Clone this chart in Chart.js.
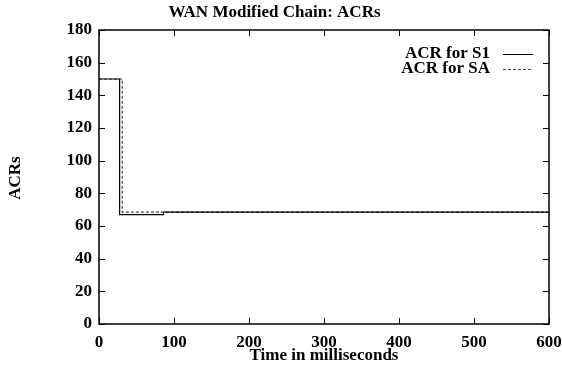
<!DOCTYPE html>
<html>
<head>
<meta charset="utf-8">
<script src="https://cdn.jsdelivr.net/npm/chart.js@4/dist/chart.umd.min.js"></script>
<style>
  html, body { margin: 0; padding: 0; background: #fff; }
  #wrap { width: 562px; height: 374px; }
</style>
</head>
<body>
<div id="wrap"><canvas id="c" width="562" height="374"></canvas></div>
<script>
// ACR traces (time in ms, ACR value)
const timeS1 = [0, 27.5, 27.5, 86, 86, 600];
const acrS1  = [150, 150, 67, 67, 68.5, 68.5];
const timeSA = [0, 31, 31, 600];
const acrSA  = [150, 150, 68.5, 68.5];

const seriesLabels = ['ACR for S1', 'ACR for SA'];
const xTicks = [0, 100, 200, 300, 400, 500, 600];
const yTicks = [0, 20, 40, 60, 80, 100, 120, 140, 160, 180];

const FONT = "'Liberation Serif', 'Times New Roman', serif";
const FS = 17;
const toPoints = (xs, ys) => xs.map((x, i) => ({ x, y: ys[i] }));

// Frame, inward tick marks on all four sides, y-axis caption and the key
const framePlugin = {
  id: 'frame',
  afterDatasetsDraw(chart) {
    const { ctx, chartArea: a, scales } = chart;
    const L = 6;
    ctx.save();
    ctx.strokeStyle = '#000';
    ctx.lineWidth = 1;
    ctx.beginPath();
    xTicks.forEach(v => {
      const px = Math.round(scales.x.getPixelForValue(v)) + 0.5;
      ctx.moveTo(px, a.bottom); ctx.lineTo(px, a.bottom - L);
      ctx.moveTo(px, a.top); ctx.lineTo(px, a.top + L);
    });
    yTicks.forEach(v => {
      const py = Math.round(scales.y.getPixelForValue(v)) + 0.5;
      ctx.moveTo(a.left, py); ctx.lineTo(a.left + L, py);
      ctx.moveTo(a.right, py); ctx.lineTo(a.right - L, py);
    });
    ctx.stroke();
    ctx.lineWidth = 1.5;
    ctx.strokeRect(a.left, a.top, a.right - a.left, a.bottom - a.top);

    ctx.fillStyle = '#000';
    ctx.font = 'bold ' + FS + 'px ' + FONT;

    // y-axis caption
    ctx.save();
    ctx.translate(16, 178);
    ctx.rotate(-Math.PI / 2);
    ctx.textAlign = 'center';
    ctx.textBaseline = 'middle';
    ctx.fillText('ACRs', 0, 0);
    ctx.restore();

    // key
    ctx.textAlign = 'right';
    ctx.textBaseline = 'middle';
    chart.data.datasets.forEach((ds, i) => {
      const y = a.top + 24 + i * 15;
      ctx.fillText(ds.label, a.right - 59, y);
      ctx.beginPath();
      ctx.strokeStyle = ds.borderColor;
      ctx.lineWidth = 1;
      ctx.setLineDash(ds.borderDash || []);
      ctx.moveTo(a.right - 46, Math.round(y) + 0.5);
      ctx.lineTo(a.right - 16, Math.round(y) + 0.5);
      ctx.stroke();
    });
    ctx.restore();
  }
};

new Chart(document.getElementById('c'), {
  type: 'line',
  data: {
    datasets: [
      {
        label: seriesLabels[0],
        data: toPoints(timeS1, acrS1),
        borderColor: '#000',
        borderWidth: 1.2,
        pointRadius: 0,
        tension: 0
      },
      {
        label: seriesLabels[1],
        data: toPoints(timeSA, acrSA),
        borderColor: '#444',
        borderWidth: 1.2,
        borderDash: [3, 2],
        pointRadius: 0,
        tension: 0
      }
    ]
  },
  options: {
    responsive: false,
    animation: false,
    events: [],
    layout: { padding: { left: 0, right: 13, top: 0, bottom: 0 } },
    plugins: {
      legend: { display: false },
      tooltip: { enabled: false },
      title: {
        display: true,
        text: 'WAN Modified Chain: ACRs',
        color: '#000',
        font: { family: FONT, size: FS, weight: 'bold', lineHeight: 1.2 },
        padding: { top: 2, bottom: 7.6 }
      }
    },
    scales: {
      x: {
        type: 'linear',
        min: 0, max: 600,
        afterBuildTicks: s => { s.ticks = xTicks.map(v => ({ value: v })); },
        afterFit: s => { s.height = 50; s.paddingLeft = 0; s.paddingRight = 0; },
        grid: { display: false, drawTicks: false },
        border: { display: false },
        ticks: { color: '#000', padding: 8, font: { family: FONT, size: FS, weight: 'bold' } },
        title: {
          display: true,
          text: 'Time in milliseconds',
          color: '#000',
          font: { family: FONT, size: FS, weight: 'bold', lineHeight: 1.1 },
          padding: { top: 0, bottom: 9 }
        }
      },
      y: {
        type: 'linear',
        min: 0, max: 180,
        afterBuildTicks: s => { s.ticks = yTicks.map(v => ({ value: v })); },
        afterFit: s => { s.width = 99; s.paddingTop = 0; s.paddingBottom = 0; },
        grid: { display: false, drawTicks: false },
        border: { display: false },
        ticks: { color: '#000', padding: 7, font: { family: FONT, size: FS, weight: 'bold' } },
        title: { display: false }
      }
    }
  },
  plugins: [framePlugin]
});
</script>
</body>
</html>
